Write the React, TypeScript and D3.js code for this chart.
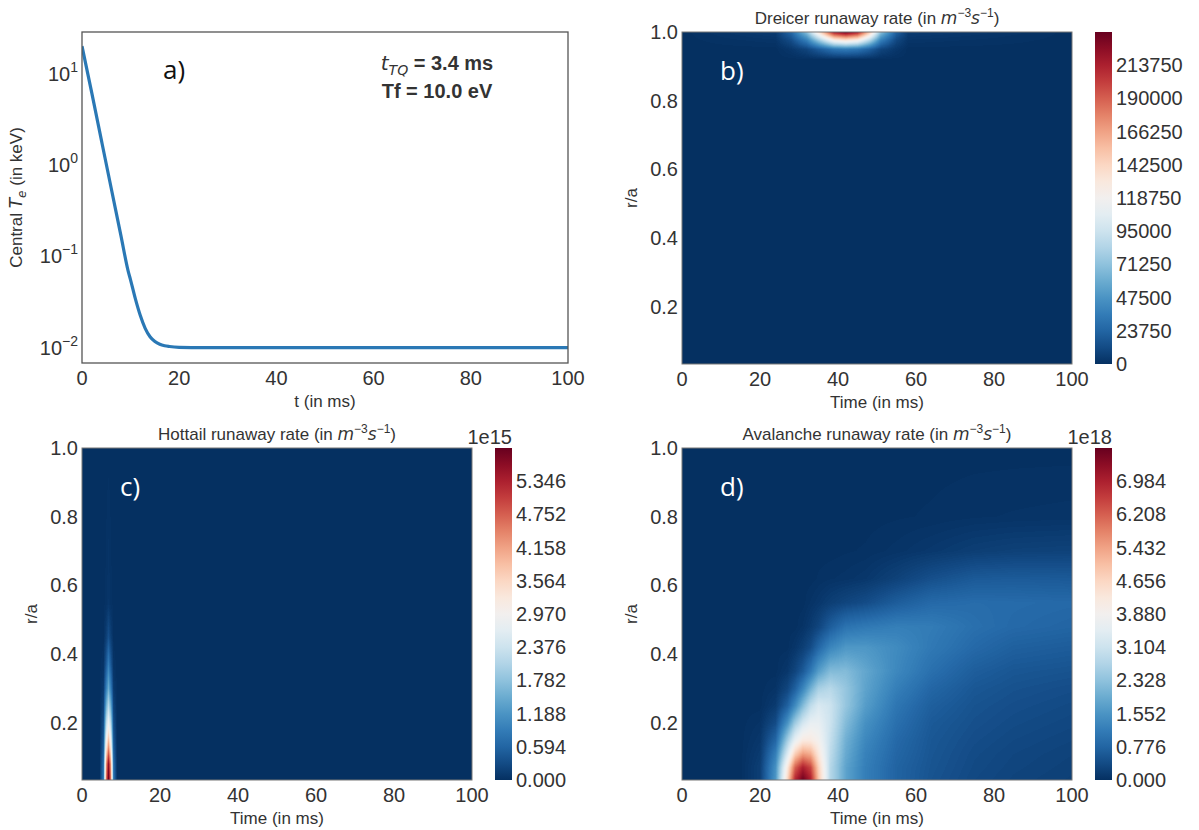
import React, { useMemo } from 'react';
import * as d3 from 'd3';

// panel a: central electron temperature (keV) vs time (ms)
const tempTime = [0, 2, 4, 6, 8, 9.5, 10, 11, 12, 13, 14, 15, 16, 17, 18, 20, 25, 40, 60, 80, 100];
const tempKeV = [20, 6.2, 1.86, 0.56, 0.17, 0.069, 0.055, 0.034, 0.0225, 0.0163, 0.0132, 0.0117, 0.0109, 0.0105, 0.0103, 0.0101, 0.01, 0.01, 0.01, 0.01, 0.01];
const tempTicks = [0.01, 0.1, 1, 10];
const timeTicks = [0, 20, 40, 60, 80, 100];
const radiusTicks = [0.2, 0.4, 0.6, 0.8, 1.0];

// panel b: Dreicer rate (m^-3 s^-1), rows = radius, cols = time
const dreicerTime = [0, 24, 28, 32, 36, 39, 42, 45, 48, 51, 55, 58, 100];
const dreicerRadius = [0.034, 0.92, 0.95, 0.975, 1.0];
const dreicerRate = [
  [0, 0, 0, 0, 0, 0, 0, 0, 0, 0, 0, 0, 0],
  [0, 0, 0, 0, 0, 0, 0, 0, 0, 0, 0, 0, 0],
  [0, 0, 3000, 9000, 22000, 32000, 35000, 32000, 22000, 9000, 3000, 0, 0],
  [0, 2000, 12000, 36000, 84000, 120000, 130000, 120000, 84000, 36000, 10000, 2000, 0],
  [0, 5000, 25000, 70000, 155000, 218000, 236000, 218000, 155000, 70000, 22000, 5000, 0],
];
const dreicerTicks = [0, 23750, 47500, 71250, 95000, 118750, 142500, 166250, 190000, 213750];

// panel c: hottail rate (x1e15)
const hottailTime = [0, 4.5, 5.5, 6.2, 6.8, 7.4, 8.1, 9, 100];
const hottailRadius = [0.034, 0.08, 0.13, 0.18, 0.24, 0.3, 0.37, 0.45, 0.55, 1.0];
const hottailRate = [
  [0, 0, 0.8, 4.5, 5.94, 4.5, 0.8, 0, 0],
  [0, 0, 0.7, 4.2, 5.6, 4.2, 0.7, 0, 0],
  [0, 0, 0.5, 3.2, 4.3, 3.2, 0.5, 0, 0],
  [0, 0, 0.35, 2.4, 3.2, 2.4, 0.35, 0, 0],
  [0, 0, 0.2, 1.6, 2.3, 1.6, 0.2, 0, 0],
  [0, 0, 0.1, 0.9, 1.5, 0.9, 0.1, 0, 0],
  [0, 0, 0.03, 0.45, 0.9, 0.45, 0.03, 0, 0],
  [0, 0, 0, 0.15, 0.35, 0.15, 0, 0, 0],
  [0, 0, 0, 0.02, 0.06, 0.02, 0, 0, 0],
  [0, 0, 0, 0, 0, 0, 0, 0, 0],
];
const hottailTicks = [0, 0.594, 1.188, 1.782, 2.376, 2.97, 3.564, 4.158, 4.752, 5.346];

// panel d: avalanche rate (x1e18)
const avalancheTime = [0, 15, 20, 24, 27, 29, 31, 33, 35, 38, 42, 47, 55, 64, 75, 85, 100];
const avalancheRadius = [0.034, 0.07, 0.11, 0.15, 0.2, 0.25, 0.3, 0.35, 0.42, 0.48, 0.55, 0.62, 0.7, 0.8, 1.0];
const avalancheRate = [
  [0, 0, 0.2, 1.6, 4.6, 6.9, 7.7, 7.0, 5.0, 2.8, 1.8, 1.2, 0.75, 0.5, 0.35, 0.28, 0.22],
  [0, 0, 0.2, 1.5, 4.2, 6.2, 7.0, 6.5, 4.8, 2.8, 1.8, 1.2, 0.75, 0.52, 0.37, 0.3, 0.24],
  [0, 0, 0.15, 1.2, 3.3, 4.8, 5.5, 5.3, 4.3, 2.9, 1.9, 1.25, 0.8, 0.54, 0.39, 0.32, 0.26],
  [0, 0, 0.1, 0.8, 2.5, 3.6, 4.2, 4.2, 3.9, 3.0, 2.0, 1.35, 0.85, 0.56, 0.42, 0.35, 0.29],
  [0, 0, 0.05, 0.4, 1.5, 2.5, 3.2, 3.6, 3.6, 3.1, 2.2, 1.5, 0.95, 0.6, 0.46, 0.39, 0.33],
  [0, 0, 0, 0.15, 0.7, 1.4, 2.2, 2.9, 3.3, 3.1, 2.4, 1.7, 1.05, 0.68, 0.5, 0.43, 0.37],
  [0, 0, 0, 0.05, 0.3, 0.7, 1.3, 2.0, 2.6, 2.8, 2.4, 1.8, 1.2, 0.8, 0.56, 0.48, 0.42],
  [0, 0, 0, 0, 0.1, 0.3, 0.6, 1.1, 1.7, 2.2, 2.2, 1.85, 1.35, 0.95, 0.66, 0.55, 0.5],
  [0, 0, 0, 0, 0, 0.08, 0.2, 0.4, 0.8, 1.3, 1.6, 1.6, 1.4, 1.1, 0.85, 0.7, 0.64],
  [0, 0, 0, 0, 0, 0, 0.05, 0.15, 0.3, 0.65, 1.0, 1.1, 1.2, 1.15, 0.95, 0.85, 0.78],
  [0, 0, 0, 0, 0, 0, 0, 0.05, 0.1, 0.2, 0.3, 0.4, 0.65, 0.85, 0.9, 0.88, 0.85],
  [0, 0, 0, 0, 0, 0, 0, 0, 0.02, 0.04, 0.06, 0.1, 0.25, 0.45, 0.6, 0.62, 0.6],
  [0, 0, 0, 0, 0, 0, 0, 0, 0, 0, 0.01, 0.02, 0.06, 0.12, 0.2, 0.24, 0.26],
  [0, 0, 0, 0, 0, 0, 0, 0, 0, 0, 0, 0, 0.01, 0.02, 0.04, 0.05, 0.06],
  [0, 0, 0, 0, 0, 0, 0, 0, 0, 0, 0, 0, 0, 0, 0, 0, 0],
];
const avalancheTicks = [0, 0.776, 1.552, 2.328, 3.104, 3.88, 4.656, 5.432, 6.208, 6.984];

const FONT = '"Liberation Sans", Arial, sans-serif';
const TXT = '#333';
const cmap = (f: number) => d3.interpolateRdBu(1 - Math.max(0, Math.min(1, f)));

function lerpIndex(xs: number[], v: number) {
  let i = d3.bisectRight(xs, v) - 1;
  i = Math.max(0, Math.min(xs.length - 2, i));
  const f = Math.max(0, Math.min(1, (v - xs[i]) / (xs[i + 1] - xs[i])));
  return [i, f];
}

function heatImage(times: number[], radii: number[], grid: number[][], vmax: number, w: number, h: number) {
  const x = d3.scaleLinear().domain([0, 100]).range([0, w]);
  const y = d3.scaleLinear().domain([0.034, 1]).range([h, 0]);
  const lut = d3.range(256).map((k) => d3.rgb(cmap(k / 255)));
  const canvas = document.createElement('canvas');
  canvas.width = w;
  canvas.height = h;
  const ctx = canvas.getContext('2d')!;
  const img = ctx.createImageData(w, h);
  for (let py = 0; py < h; py++) {
    const [j, fy] = lerpIndex(radii, y.invert(py + 0.5));
    for (let px = 0; px < w; px++) {
      const [i, fx] = lerpIndex(times, x.invert(px + 0.5));
      const v =
        grid[j][i] * (1 - fx) * (1 - fy) +
        grid[j][i + 1] * fx * (1 - fy) +
        grid[j + 1][i] * (1 - fx) * fy +
        grid[j + 1][i + 1] * fx * fy;
      const c = lut[Math.round(Math.max(0, Math.min(1, v / vmax)) * 255)];
      const o = (py * w + px) * 4;
      img.data[o] = c.r;
      img.data[o + 1] = c.g;
      img.data[o + 2] = c.b;
      img.data[o + 3] = 255;
    }
  }
  ctx.putImageData(img, 0, 0);
  return canvas.toDataURL();
}

const Title = ({ x, y, name }: { x: number; y: number; name: string }) => (
  <text x={x} y={y} textAnchor="middle" fontSize={17} fill={TXT} fontFamily={FONT}>
    {name} runaway rate (in <tspan fontStyle="italic" fontFamily="DejaVu Sans">m</tspan>
    <tspan dy={-7} fontSize={12}>−3</tspan>
    <tspan dy={7} fontStyle="italic" fontFamily="DejaVu Sans">s</tspan>
    <tspan dy={-7} fontSize={12}>−1</tspan>
    <tspan dy={7}>)</tspan>
  </text>
);

function TempPanel() {
  const x0 = 82, x1 = 568, y0 = 32, y1 = 363;
  const x = d3.scaleLinear().domain([0, 100]).range([x0, x1]);
  const y = d3.scaleLog().domain([0.0068, 28.6]).range([y1, y0]);
  const line = d3.line<number>().x((_, i) => x(tempTime[i])).y((d) => y(d)).curve(d3.curveMonotoneX);
  return (
    <g fontFamily={FONT}>
      <clipPath id="clipA"><rect x={x0} y={y0} width={x1 - x0} height={y1 - y0} /></clipPath>
      <path d={line(tempKeV) || ''} fill="none" stroke="#2a78b5" strokeWidth={3.2} clipPath="url(#clipA)" />
      <rect x={x0} y={y0} width={x1 - x0} height={y1 - y0} fill="none" stroke="#555" strokeWidth={1.3} />
      {timeTicks.map((t) => (
        <text key={t} x={x(t)} y={385} textAnchor="middle" fontSize={20} fill={TXT}>{t}</text>
      ))}
      {tempTicks.map((v) => (
        <text key={v} x={78} y={y(v)} dy="0.35em" textAnchor="end" fontSize={20} fill={TXT}>
          10<tspan dy={-9} fontSize={14}>{Math.round(Math.log10(v)).toString().replace('-', '−')}</tspan>
        </text>
      ))}
      <text x={(x0 + x1) / 2} y={407} textAnchor="middle" fontSize={17} fill={TXT}>t (in ms)</text>
      <text transform={`translate(22,${(y0 + y1) / 2}) rotate(-90)`} textAnchor="middle" fontSize={17} fill={TXT}>
        Central <tspan fontStyle="italic" fontFamily="DejaVu Sans">T</tspan>
        <tspan dy={4} fontSize={12} fontStyle="italic" fontFamily="DejaVu Sans">e</tspan>
        <tspan dy={-4}> (in keV)</tspan>
      </text>
      <text x={163} y={79} fontSize={26} fill="#111" fontFamily='"Open Sans", sans-serif'>a)</text>
      <text x={437} y={70} textAnchor="middle" fontSize={20} fill="#333" fontWeight="bold">
        <tspan fontStyle="italic" fontWeight="normal" fontFamily="DejaVu Sans">t</tspan>
        <tspan dy={5} fontSize={14} fontStyle="italic" fontWeight="normal" fontFamily="DejaVu Sans">TQ</tspan>
        <tspan dy={-5}> = 3.4 ms</tspan>
      </text>
      <text x={437} y={98} textAnchor="middle" fontSize={20} fill="#333" fontWeight="bold">Tf = 10.0 eV</text>
    </g>
  );
}

type HeatProps = {
  ox: number; oy: number; name: string; label: string;
  times: number[]; radii: number[]; grid: number[][]; vmax: number;
  ticks: number[]; fmt: (v: number) => string; offset?: string; gradId: string;
};

function HeatPanel({ ox, oy, name, label, times, radii, grid, vmax, ticks, fmt, offset, gradId }: HeatProps) {
  const x0 = ox + 82, x1 = ox + 472, y0 = oy, y1 = oy + 332;
  const w = x1 - x0, h = y1 - y0;
  const x = d3.scaleLinear().domain([0, 100]).range([x0, x1]);
  const y = d3.scaleLinear().domain([0.034, 1]).range([y1, y0]);
  const cb = d3.scaleLinear().domain([0, vmax]).range([y1, y0]);
  const href = useMemo(() => heatImage(times, radii, grid, vmax, w, h), [times, radii, grid, vmax, w, h]);
  const stops = d3.range(0, 1.0001, 0.05);
  return (
    <g fontFamily={FONT}>
      <defs>
        <linearGradient id={gradId} x1="0" y1="1" x2="0" y2="0">
          {stops.map((s) => <stop key={s} offset={s} stopColor={cmap(s)} />)}
        </linearGradient>
      </defs>
      <image href={href} x={x0} y={y0} width={w} height={h} preserveAspectRatio="none" />
      <rect x={x0} y={y0} width={w} height={h} fill="none" stroke="#777" strokeWidth={1} />
      <Title x={(x0 + x1) / 2} y={oy - 8} name={name} />
      {timeTicks.map((t) => (
        <text key={t} x={x(t)} y={y1 + 22} textAnchor="middle" fontSize={20} fill={TXT}>{t}</text>
      ))}
      {radiusTicks.map((r) => (
        <text key={r} x={x0 - 4} y={y(r)} dy="0.35em" textAnchor="end" fontSize={20} fill={TXT}>{r.toFixed(1)}</text>
      ))}
      <text x={(x0 + x1) / 2} y={y1 + 44} textAnchor="middle" fontSize={17} fill={TXT}>Time (in ms)</text>
      <text transform={`translate(${ox + 37},${(y0 + y1) / 2}) rotate(-90)`} textAnchor="middle" fontSize={17} fill={TXT}>r/a</text>
      <rect x={ox + 495} y={y0} width={17} height={h} fill={`url(#${gradId})`} />
      {ticks.map((v) => (
        <text key={v} x={ox + 516} y={cb(v)} dy="0.35em" fontSize={20} fill={TXT}>{fmt(v)}</text>
      ))}
      {offset && (
        <text x={ox + 512} y={oy - 4} textAnchor="end" fontSize={20} fill={TXT}>{offset}</text>
      )}
      <text x={ox + 120} y={oy + 48} fontSize={26} fill="#fff" fontFamily='"Open Sans", sans-serif'>{label}</text>
    </g>
  );
}

export default function App() {
  return (
    <svg width={1199} height={830} style={{ position: 'absolute', left: 0, top: 0, background: '#fff' }}>
      <TempPanel />
      <HeatPanel ox={600} oy={32} name="Dreicer" label="b)" times={dreicerTime} radii={dreicerRadius}
        grid={dreicerRate} vmax={237500} ticks={dreicerTicks} fmt={(v) => String(v)} gradId="gb" />
      <HeatPanel ox={0} oy={448} name="Hottail" label="c)" times={hottailTime} radii={hottailRadius}
        grid={hottailRate} vmax={5.94} ticks={hottailTicks} fmt={(v) => v.toFixed(3)} offset="1e15" gradId="gc" />
      <HeatPanel ox={600} oy={448} name="Avalanche" label="d)" times={avalancheTime} radii={avalancheRadius}
        grid={avalancheRate} vmax={7.76} ticks={avalancheTicks} fmt={(v) => v.toFixed(3)} offset="1e18" gradId="gd" />
    </svg>
  );
}
